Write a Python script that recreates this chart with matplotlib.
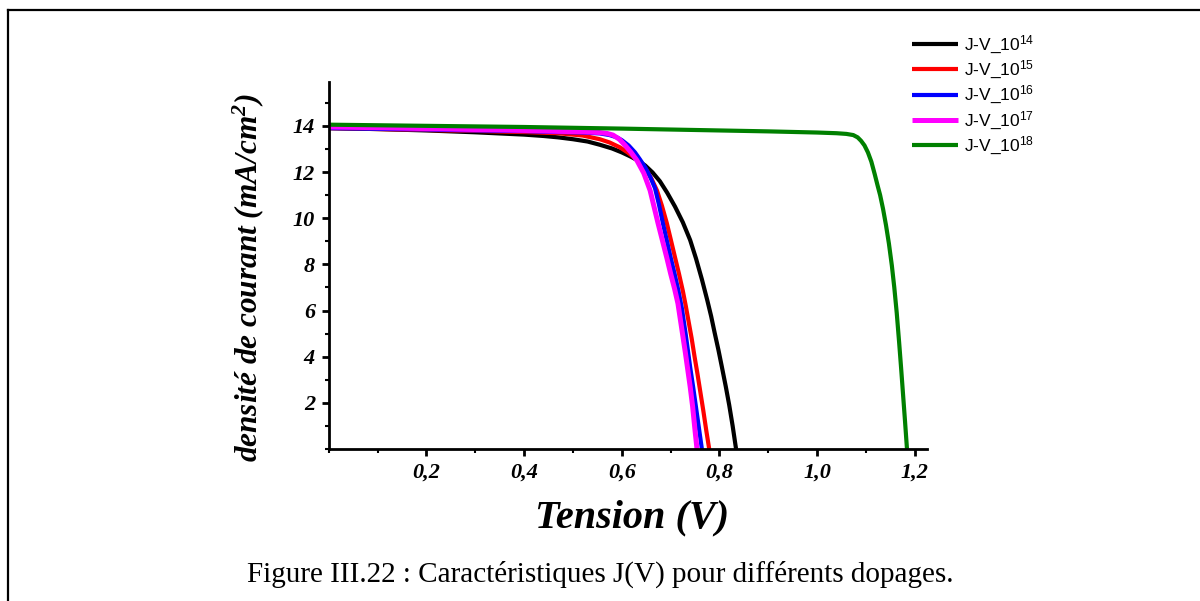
import matplotlib
matplotlib.use("Agg")
import matplotlib.pyplot as plt
from matplotlib.ticker import MultipleLocator, FixedLocator
from matplotlib.lines import Line2D

plt.rcParams['mathtext.default'] = 'regular'

# J-V curves for each doping level (V in volts, J in mA/cm2)
v_1e14 = [0.0, 0.05, 0.1, 0.15, 0.2, 0.25, 0.3, 0.35, 0.4, 0.44, 0.47, 0.5, 0.53, 0.555,
          0.58, 0.6, 0.617, 0.633, 0.648, 0.663, 0.678, 0.693, 0.709, 0.725, 0.74, 0.752,
          0.764, 0.775, 0.783, 0.79, 0.798, 0.805, 0.813, 0.82, 0.827, 0.834]
j_1e14 = [13.9, 13.88, 13.86, 13.83, 13.8, 13.76, 13.72, 13.67, 13.62, 13.56, 13.5, 13.42,
          13.32, 13.18, 13.02, 12.85, 12.68, 12.5, 12.28, 11.98, 11.6, 11.1, 10.5, 9.82,
          9.05, 8.25, 7.35, 6.45, 5.75, 5.05, 4.28, 3.55, 2.7, 1.9, 1.0, 0.0]

v_1e15 = [0.0, 0.1, 0.2, 0.3, 0.4, 0.47, 0.52, 0.555, 0.575, 0.596, 0.612, 0.627, 0.64,
          0.65, 0.661, 0.672, 0.682, 0.692, 0.7, 0.709, 0.717, 0.725, 0.731, 0.737, 0.743,
          0.749, 0.755, 0.761, 0.767, 0.773, 0.779]
j_1e15 = [13.9, 13.86, 13.82, 13.78, 13.73, 13.68, 13.58, 13.42, 13.28, 13.07, 12.85, 12.6,
          12.35, 12.1, 11.7, 11.2, 10.55, 9.8, 9.1, 8.3, 7.6, 6.85, 6.2, 5.5, 4.8,
          4.0, 3.25, 2.45, 1.65, 0.8, 0.0]

v_1e16 = [0.0, 0.1, 0.2, 0.3, 0.4, 0.47, 0.52, 0.555, 0.575, 0.59, 0.6, 0.614, 0.627, 0.637,
          0.648, 0.658, 0.668, 0.676, 0.684, 0.692, 0.7, 0.708, 0.716, 0.723, 0.731, 0.74,
          0.746, 0.752, 0.758, 0.764]
j_1e16 = [13.9, 13.87, 13.84, 13.8, 13.77, 13.73, 13.71, 13.67, 13.6, 13.5, 13.38, 13.15,
          12.85, 12.55, 12.2, 11.8, 11.3, 10.6, 9.8, 9.05, 8.3, 7.6, 6.85, 6.1, 4.95, 3.55,
          2.7, 1.8, 0.9, 0.0]

v_1e17 = [0.0, 0.1, 0.2, 0.3, 0.4, 0.47, 0.52, 0.555, 0.57, 0.582, 0.595, 0.607, 0.619,
          0.631, 0.645, 0.658, 0.666, 0.674, 0.683, 0.692, 0.7, 0.708, 0.715, 0.72, 0.725,
          0.73, 0.735, 0.74, 0.745, 0.75, 0.754]
j_1e17 = [13.95, 13.92, 13.88, 13.84, 13.8, 13.76, 13.74, 13.71, 13.67, 13.6, 13.42, 13.15,
          12.85, 12.5, 11.95, 11.2, 10.5, 9.8, 9.05, 8.3, 7.6, 6.95, 6.3, 5.6, 4.9,
          4.2, 3.45, 2.7, 1.85, 0.8, 0.0]

v_1e18 = [0.0, 0.2, 0.4, 0.6, 0.8, 0.9, 1.0, 1.04, 1.06, 1.074, 1.083, 1.09, 1.097, 1.104,
          1.111, 1.118, 1.124, 1.129, 1.135, 1.141, 1.147, 1.153, 1.158, 1.163, 1.168,
          1.172, 1.176, 1.18, 1.184]
j_1e18 = [14.05, 14.0, 13.95, 13.88, 13.8, 13.76, 13.71, 13.68, 13.65, 13.6, 13.5, 13.35,
          13.15, 12.85, 12.45, 11.9, 11.4, 11.0, 10.4, 9.7, 8.9, 7.95, 7.0, 5.9, 4.6,
          3.5, 2.35, 1.2, 0.0]

series_labels = ['J-V_10$^{14}$', 'J-V_10$^{15}$', 'J-V_10$^{16}$',
                 'J-V_10$^{17}$', 'J-V_10$^{18}$']
series_colors = ['black', 'red', 'blue', '#ff00ff', 'green']
series_widths = [3.0, 3.0, 3.0, 3.6, 3.0]

x_ticks = [0.2, 0.4, 0.6, 0.8, 1.0, 1.2]
x_ticklabels = ['0,2', '0,4', '0,6', '0,8', '1,0', '1,2']
y_ticks = [2, 4, 6, 8, 10, 12, 14]

serif = 'Liberation Serif'
sans = 'Liberation Sans'

fig = plt.figure(figsize=(12.0, 6.01), dpi=100)
ax = fig.add_axes([0.274, 0.2529, 0.4985, 0.6107])

curves = [(v_1e14, j_1e14), (v_1e15, j_1e15), (v_1e16, j_1e16),
          (v_1e17, j_1e17), (v_1e18, j_1e18)]
for (v, j), lab, col, lw in zip(curves, series_labels, series_colors, series_widths):
    ax.plot(v, j, color=col, lw=lw, label=lab, solid_capstyle='butt',
            solid_joinstyle='round')

ax.set_xlim(0, 1.225)
ax.set_ylim(0, 15.9)
for side in ('top', 'right'):
    ax.spines[side].set_visible(False)
for side in ('left', 'bottom'):
    ax.spines[side].set_linewidth(2.0)

ax.xaxis.set_major_locator(FixedLocator(x_ticks))
ax.set_xticklabels(x_ticklabels)
ax.xaxis.set_minor_locator(MultipleLocator(0.1))
ax.yaxis.set_major_locator(FixedLocator(y_ticks))
ax.yaxis.set_minor_locator(MultipleLocator(1))
ax.tick_params(which='major', direction='out', length=5, width=2, pad=5)
ax.tick_params(which='minor', direction='out', length=3, width=1.5)
for lbl in ax.get_xticklabels() + ax.get_yticklabels():
    lbl.set_fontfamily(serif)
    lbl.set_fontweight('bold')
    lbl.set_fontstyle('italic')
    lbl.set_fontsize(16)

fig.text(0.2067, 0.5374, 'densité de courant (mA/cm$^{2}$)', rotation=90,
         ha='center', va='center', fontsize=22.5, family=serif,
         weight='bold', style='italic')
fig.text(0.527, 0.139, 'Tension (V)', ha='center', va='center', fontsize=29,
         family=serif, weight='bold', style='italic')
fig.text(0.5, 0.045, 'Figure III.22 : Caractéristiques J(V) pour différents dopages.',
         ha='center', va='center', fontsize=21, family=serif)

handles, labels = ax.get_legend_handles_labels()
fig.legend(handles, labels, loc='upper left', bbox_to_anchor=(0.747, 0.97),
           frameon=False, prop={'family': sans, 'size': 12.5},
           handlelength=2.65, handletextpad=0.35, labelspacing=0.18)

# page frame (left and top edges)
fig.add_artist(Line2D([0.0067, 0.0067], [0.0, 0.983], transform=fig.transFigure,
                      color='black', lw=1.6))
fig.add_artist(Line2D([0.0067, 1.0], [0.983, 0.983], transform=fig.transFigure,
                      color='black', lw=1.6))

fig.savefig('out.png', dpi=100)
